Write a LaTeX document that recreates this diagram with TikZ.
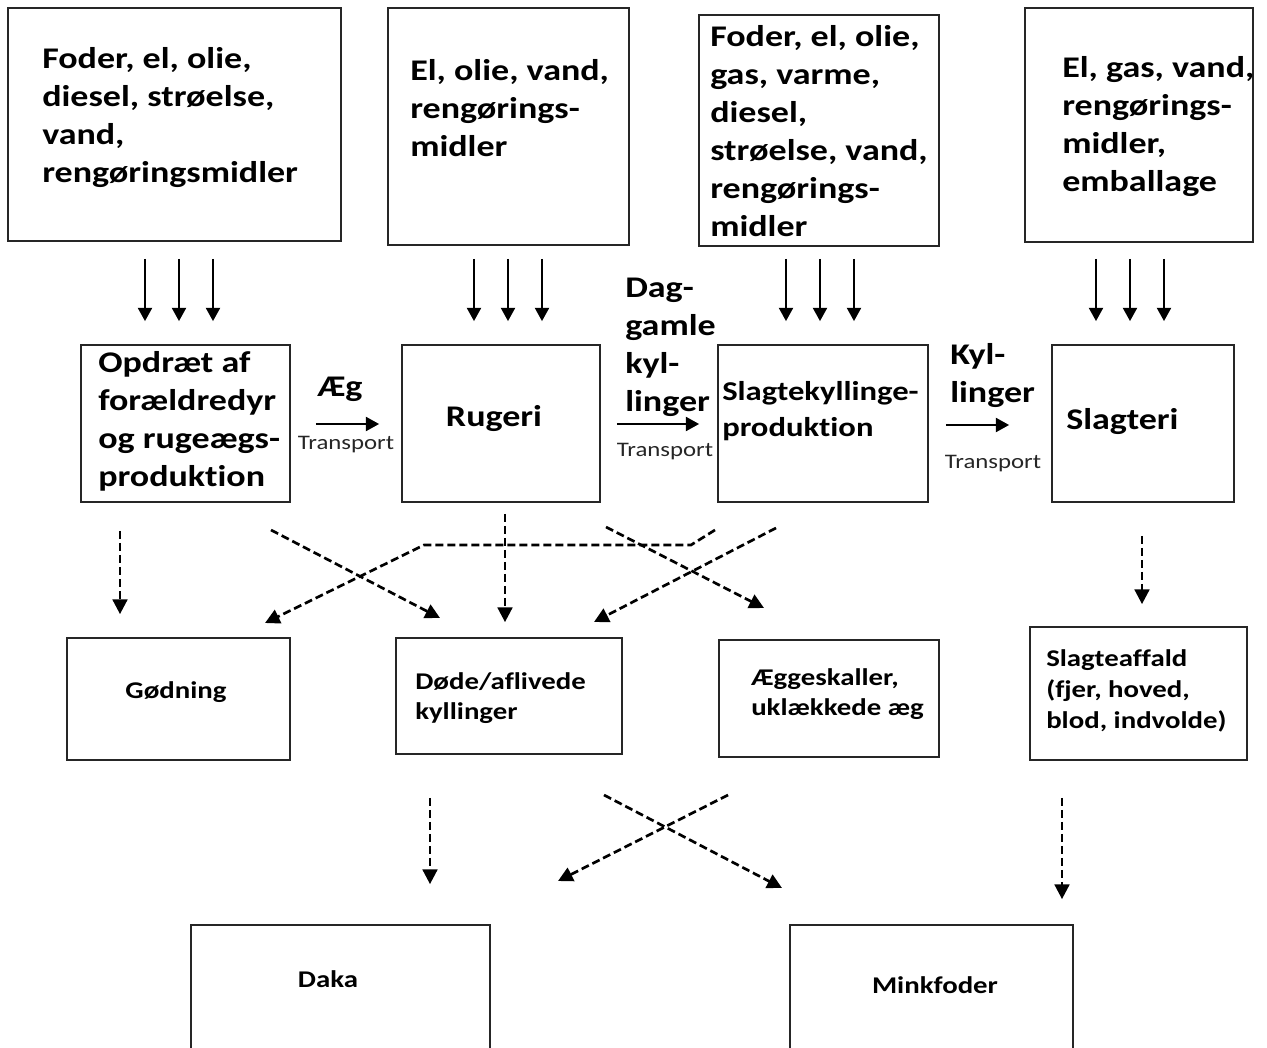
\documentclass[tikz,border=0pt]{standalone}
\usepackage{fontspec}
\setmainfont{Carlito}[FakeStretch=1.2, Ligatures=NoCommon]
\usetikzlibrary{arrows.meta,fit}
\tikzset{
  box/.style={draw=black!85, line width=1.3pt, inner sep=0pt, rectangle},
  big/.style={inner sep=0pt, align=left, font=\fontsize{22.5}{28.5}\selectfont\bfseries, text=black},
  mid/.style={inner sep=0pt, align=left, font=\fontsize{20.4}{27}\selectfont\bfseries, text=black},
  small/.style={inner sep=0pt, align=left, font=\fontsize{18}{23}\selectfont\bfseries, text=black},
  trans/.style={inner sep=0pt, font=\fontsize{15.5}{18}\selectfont, text=black!85},
  sarr/.style={line width=1.8pt, -{Triangle[length=10pt,width=10.5pt]}},
  darr/.style={line width=2pt, dash pattern=on 6pt off 3pt, -{Triangle[length=11pt,width=11pt]}},
}
\begin{document}
\begin{tikzpicture}[x=0.75pt,y=-0.75pt]
\useasboundingbox[fill=white] (0,0) rectangle (1267,1048);
% top boxes
\node[box, fit={(8,8) (341,241)}] (t1) {};
\node[box, fit={(388,8) (629,245)}] (t2) {};
\node[box, fit={(699,15) (939,246)}] (t3) {};
\node[box, fit={(1025,8) (1253,242)}] (t4) {};
\node[big, anchor=west] (t1t) at (42,118) {Foder, el, olie,\\diesel, strøelse,\\vand,\\rengøringsmidler};
\node[big, anchor=west] (t2t) at (410,108) {El, olie, vand,\\rengørings-\\midler};
\node[big, anchor=west] (t3t) at (710,131) {Foder, el, olie,\\gas, varme,\\diesel,\\strøelse, vand,\\rengørings-\\midler};
\node[big, anchor=west] (t4t) at (1062,127) {El, gas, vand,\\rengørings-\\midler,\\emballage};
% middle boxes
\node[box, fit={(81,345) (290,502)}] (m1) {};
\node[box, fit={(402,345) (600,502)}] (m2) {};
\node[box, fit={(718,345) (928,502)}] (m3) {};
\node[box, fit={(1052,345) (1234,502)}] (m4) {};
\node[big, anchor=west] (m1t) at (98,421) {Opdræt af\\forældredyr\\og rugeægs-\\produktion};
\node[big] (m2t) at (494,419) {Rugeri};
\node[mid, anchor=west] (m3t) at (722,411) {Slagtekyllinge-\\produktion};
\node[big, anchor=west] (m4t) at (1066,422) {Slagteri};
% top arrows
\foreach \x in {145,179,213} \draw[sarr, shorten <=12.75pt, shorten >=17.25pt] (t1.south -| \x,0) -- (m1.north -| \x,0);
\foreach \x in {474,508,542} \draw[sarr, shorten <=9.75pt, shorten >=17.25pt] (t2.south -| \x,0) -- (m2.north -| \x,0);
\foreach \x in {786,820,854} \draw[sarr, shorten <=9pt, shorten >=17.25pt] (t3.south -| \x,0) -- (m3.north -| \x,0);
\foreach \x in {1096,1130,1164} \draw[sarr, shorten <=12pt, shorten >=17.25pt] (t4.south -| \x,0) -- (m4.north -| \x,0);
% transport arrows
\draw[sarr, shorten <=18.75pt, shorten >=16.5pt] (m1.east |- 0,424) -- (m2.west |- 0,424);
\draw[sarr, shorten <=12pt, shorten >=13.5pt] (m2.east |- 0,424) -- (m3.west |- 0,424);
\draw[sarr, shorten <=12.75pt, shorten >=31.5pt] (m3.east |- 0,425) -- (m4.west |- 0,425);
\node[big] (l1) at (340,389) {Æg};
\node[trans] (tr1) at (346,445) {Transport};
\node[big, anchor=west] (l2) at (625,347) {Dag-\\gamle\\kyl-\\linger};
\node[trans] (tr2) at (665,452) {Transport};
\node[big, anchor=west] (l3) at (950,376) {Kyl-\\linger};
\node[trans] (tr3) at (993,464) {Transport};
% lower boxes
\node[box, fit={(67,638) (290,760)}] (b1) {};
\node[box, fit={(396,638) (622,754)}] (b2) {};
\node[box, fit={(719,640) (939,757)}] (b3) {};
\node[box, fit={(1030,627) (1247,760)}] (b4) {};
\node[small] (b1t) at (176,692) {Gødning};
\node[small, anchor=west] (b2t) at (415,698) {Døde/aflivede\\kyllinger};
\node[small, anchor=west] (b3t) at (751,694) {Æggeskaller,\\uklækkede æg};
\node[small, anchor=west] (b4t) at (1046,691) {Slagteaffald\\(fjer, hoved,\\blod, indvolde)};
% bottom boxes
\node[box, fit={(191,925) (490,1062)}] (daka) {};
\node[box, fit={(790,925) (1073,1062)}] (mink) {};
\node[small] (dakat) at (328,979) {Daka};
\node[small] (minkt) at (935,985) {Minkfoder};
% dashed arrows middle -> lower
\draw[darr, shorten <=21pt, shorten >=17.25pt] (m1.south -| 120,0) -- (b1.north -| 120,0);
\draw[darr, shorten <=8.25pt, shorten >=11.25pt] (m2.south -| 505,0) -- (b2.north -| 505,0);
\draw[darr, shorten <=24.75pt, shorten >=16.5pt] (m4.south -| 1142,0) -- (b4.north -| 1142,0);
\coordinate (a1s) at (271,530); \coordinate (a1e) at (440,618);
\draw[darr] (a1s) -- (a1e);
\coordinate (a2s) at (715,530); \coordinate (a2b) at (691,545); \coordinate (a2c) at (424,545); \coordinate (a2e) at (265,623);
\draw[darr] (a2s) -- (a2b) -- (a2c) -- (a2e);
\coordinate (a3s) at (776,528); \coordinate (a3e) at (594,622);
\draw[darr] (a3s) -- (a3e);
\coordinate (a4s) at (606,527); \coordinate (a4e) at (764,608);
\draw[darr] (a4s) -- (a4e);
% dashed arrows lower -> bottom
\draw[darr, shorten <=32.25pt, shorten >=30pt] (b2.south -| 430,0) -- (daka.north -| 430,0);
\draw[darr, shorten <=27.75pt, shorten >=18.75pt] (b4.south -| 1062,0) -- (mink.north -| 1062,0);
\coordinate (c1s) at (604,795); \coordinate (c1e) at (782,888);
\draw[darr] (c1s) -- (c1e);
\coordinate (c2s) at (728,795); \coordinate (c2e) at (558,881);
\draw[darr] (c2s) -- (c2e);
\end{tikzpicture}
\end{document}
